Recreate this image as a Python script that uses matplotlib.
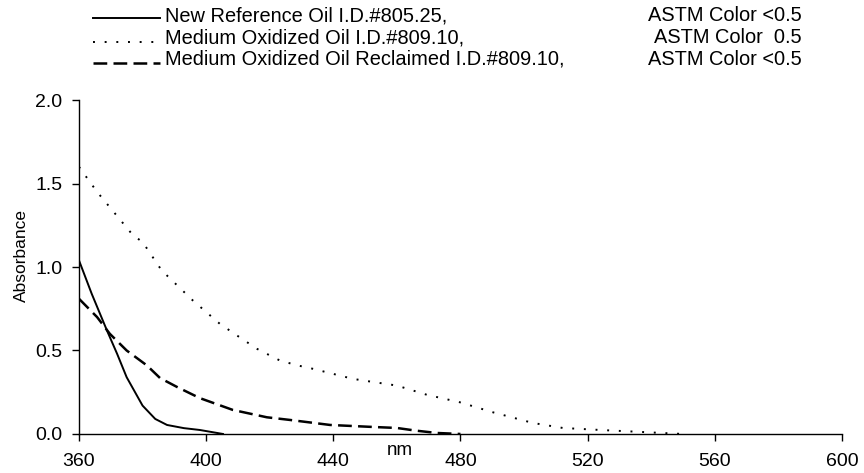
import matplotlib
matplotlib.use("Agg")
import matplotlib.pyplot as plt

# wavelength (nm) / absorbance
nm_new = [360, 364, 368.8, 372, 375, 380, 384, 387.7, 393, 398, 405.3]
abs_new = [1.04, 0.84, 0.62, 0.48, 0.34, 0.17, 0.09, 0.054, 0.035, 0.024, 0.0]

nm_ox = [360, 365.7, 377, 380, 386, 395.8, 404.3, 409.7, 416, 423.2, 428.9,
         432.6, 438.9, 446.2, 453, 460, 469.4, 479.8, 490.2, 502.8, 512.2,
         524, 537, 550]
abs_ox = [1.60, 1.45, 1.19, 1.15, 0.98, 0.80, 0.66, 0.59, 0.51, 0.44, 0.41,
          0.395, 0.365, 0.33, 0.31, 0.29, 0.235, 0.19, 0.13, 0.066, 0.036,
          0.024, 0.012, 0.0]

nm_rec = [360, 365.7, 369.7, 375, 381.4, 385.5, 391, 398, 408.4, 419.1,
          426.4, 439, 452.5, 460, 466, 472.6, 480]
abs_rec = [0.81, 0.70, 0.60, 0.50, 0.41, 0.335, 0.28, 0.215, 0.144, 0.10,
           0.084, 0.054, 0.042, 0.036, 0.02, 0.006, 0.0]

legend_names = ["New Reference Oil I.D.#805.25,",
                "Medium Oxidized Oil I.D.#809.10,",
                "Medium Oxidized Oil Reclaimed I.D.#809.10,"]
legend_notes = ["ASTM Color <0.5", "ASTM Color  0.5", "ASTM Color <0.5"]

x_ticks = [360, 400, 440, 480, 520, 560, 600]
y_ticks = [0.0, 0.5, 1.0, 1.5, 2.0]

plt.rcParams["font.family"] = ["Liberation Sans", "DejaVu Sans"]

fig = plt.figure(figsize=(8.64, 4.73), dpi=100)
ax = fig.add_axes([0.0914, 0.0825, 0.883, 0.706])

styles = [dict(color="black", lw=1.4, ls="-"),
          dict(color="black", lw=1.4, ls=(0, (1, 5))),
          dict(color="black", lw=1.8, ls=(0, (5.5, 2.5)))]

ax.plot(nm_new, abs_new, **styles[0])
ax.plot(nm_ox, abs_ox, **styles[1])
ax.plot(nm_rec, abs_rec, **styles[2])

ax.set_xlim(360, 600)
ax.set_ylim(0, 2.0)
ax.set_xticks(x_ticks)
ax.set_yticks(y_ticks)
ax.set_yticklabels([f"{v:.1f}" for v in y_ticks])
for s in ["top", "right"]:
    ax.spines[s].set_visible(False)
for s in ["left", "bottom"]:
    ax.spines[s].set_linewidth(1.0)
ax.tick_params(labelsize=14, length=5, width=1, direction="out")
ax.tick_params(axis="x", pad=9)
ax.tick_params(axis="y", pad=7)
ax.set_xlabel("nm", fontsize=13.5, va="baseline")
ax.xaxis.set_label_coords(0.42, -0.063)
ax.set_ylabel("Absorbance", fontsize=12.5)
ax.yaxis.set_label_coords(-0.066, 0.533)

# legend drawn as figure text with line samples
baselines = [0.9556, 0.909, 0.8626]
line_y = [0.962, 0.911, 0.867]
for yb, yl, name, note, st in zip(baselines, line_y, legend_names, legend_notes, styles):
    fig.add_artist(plt.Line2D([0.1076, 0.185], [yl, yl],
                              transform=fig.transFigure, **st))
    fig.text(0.191, yb, name, fontsize=14.4, va="baseline", ha="left")
    fig.text(0.928, yb, note, fontsize=14.4, va="baseline", ha="right")

fig.savefig("out.png", dpi=100)
